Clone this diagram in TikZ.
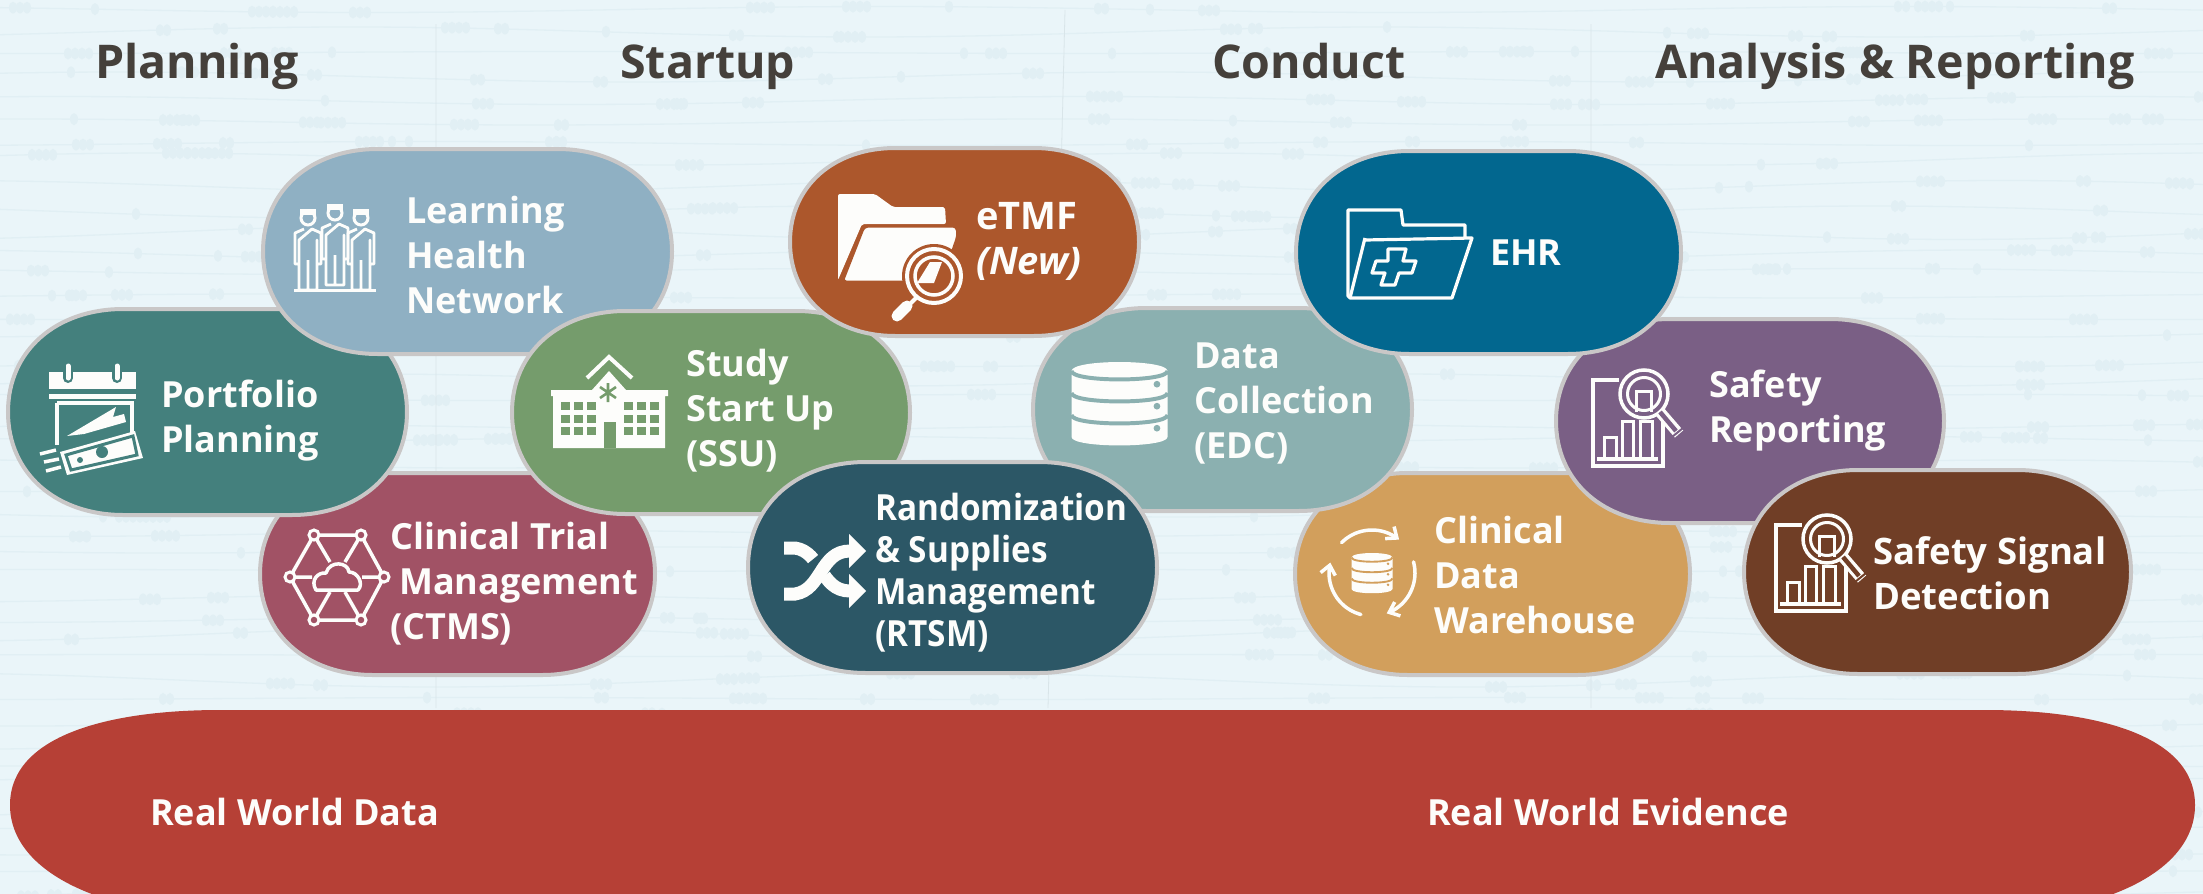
\documentclass[tikz,border=0pt]{standalone}
\usepackage{fontspec}
\setmainfont{Open Sans}
\newfontfamily\condf[FakeStretch=0.925]{Open Sans}
\usetikzlibrary{arrows.meta}
\definecolor{bgc}{HTML}{EAF5F9}
\definecolor{patc}{HTML}{E1EFF4}
\definecolor{rulec}{HTML}{D9E5E9}
\definecolor{edgec}{HTML}{C9C7C7}
\definecolor{headc}{HTML}{45403B}
\definecolor{iconw}{HTML}{FDFDFB}
\definecolor{cLearn}{HTML}{8FB0C3}
\definecolor{cPort}{HTML}{44807D}
\definecolor{cCtms}{HTML}{A15265}
\definecolor{cSsu}{HTML}{759C6C}
\definecolor{cEtmf}{HTML}{AC572C}
\definecolor{cRtsm}{HTML}{2C5766}
\definecolor{cEdc}{HTML}{8BB0B0}
\definecolor{cEhr}{HTML}{02678F}
\definecolor{cCdw}{HTML}{D29F5C}
\definecolor{cRep}{HTML}{7A5F85}
\definecolor{cSig}{HTML}{703E26}
\definecolor{cRed}{HTML}{B64036}
\tikzset{
  x=1pt,y=-1pt,
  pillshape/.style={draw=edgec,line width=4pt},
  lbl/.style={anchor=base west,align=left,text=iconw,font=\fontsize{36}{45}\selectfont\bfseries,inner sep=0pt},
  head/.style={anchor=base west,text=headc,font=\fontsize{46.5}{50}\selectfont\bfseries,inner sep=0pt},
  redlbl/.style={anchor=base west,text=iconw,font=\fontsize{36}{40}\selectfont\bfseries,inner sep=0pt},
  ln/.style={draw=iconw,line width=3.5pt,line join=miter},
  fl/.style={fill=iconw},
}
\newcommand{\pill}[6]{%
  \pgfmathsetmacro{\ym}{(#3+#5)/2}%
  \pgfmathsetmacro{\rr}{0.56*(#5-#3)}%
  \pgfmathsetmacro{\xa}{#2+\rr}%
  \pgfmathsetmacro{\xb}{#4-\rr}%
  \pgfmathsetmacro{\cxa}{#2+0.42*\rr}%
  \pgfmathsetmacro{\cxb}{#4-0.42*\rr}%
  \pgfmathsetmacro{\cya}{#3+0.20*(#5-#3)}%
  \pgfmathsetmacro{\cyb}{#5-0.20*(#5-#3)}%
  \path[pillshape,fill=#6] (#2,\ym) .. controls (#2,\cya) and (\cxa,#3) .. (\xa,#3)
    -- (\xb,#3) .. controls (\cxb,#3) and (#4,\cya) .. (#4,\ym)
    .. controls (#4,\cyb) and (\cxb,#5) .. (\xb,#5)
    -- (\xa,#5) .. controls (\cxa,#5) and (#2,\cyb) .. (#2,\ym) -- cycle;
  \coordinate (#1) at ({(#2+#4)/2},\ym);%
}
% database: centre x, top y, half width, ellipse height, band height, colour
\newcommand{\dbicon}[6]{%
  \pgfmathsetmacro{\ya}{#2+#4}%
  \pgfmathsetmacro{\yb}{\ya+#5}%
  \pgfmathsetmacro{\yc}{\yb+#5}%
  \pgfmathsetmacro{\yd}{\yc+#5}%
  \pgfmathsetmacro{\yae}{\yd+1.25*#4}%
  \pgfmathsetmacro{\xl}{#1-#3}%
  \pgfmathsetmacro{\xr}{#1+#3}%
  \pgfmathsetmacro{\ctla}{\ya+1.25*#4}%
  \pgfmathsetmacro{\ctlb}{\yb+1.25*#4}%
  \pgfmathsetmacro{\ctlc}{\yc+1.25*#4}%
  \pgfmathsetmacro{\ctop}{\ya-1.33*#4}%
  \path[fl] (\xl,\ya) .. controls (\xl,\ctop) and (\xr,\ctop) .. (\xr,\ya) -- (\xr,\yd)
     .. controls (\xr,\yae) and (\xl,\yae) .. (\xl,\yd) -- cycle;
  \draw[#6,line width=0.06*#5*3pt] (\xl,\ya) .. controls (\xl,\ctla) and (\xr,\ctla) .. (\xr,\ya);
  \draw[#6,line width=0.06*#5*3pt] (\xl,\yb) .. controls (\xl,\ctlb) and (\xr,\ctlb) .. (\xr,\yb);
  \draw[#6,line width=0.06*#5*3pt] (\xl,\yc) .. controls (\xl,\ctlc) and (\xr,\ctlc) .. (\xr,\yc);
  \fill[#6] ({\xr-0.22*#3},{\ya+0.6*#5}) circle[radius=0.07*#3];
  \fill[#6] ({\xr-0.22*#3},{\yb+0.6*#5}) circle[radius=0.07*#3];
  \fill[#6] ({\xr-0.22*#3},{\yc+0.6*#5}) circle[radius=0.07*#3];
}
\newcommand{\person}[3]{% cx, top, colour
  \begin{scope}[shift={(#1,#2)}]
    \draw[iconw,line width=3pt] (0,8) circle[radius=7];
    \path[fl] (-8,-1) -- (8,-1) -- (8,5) -- (-8,5) -- cycle;
    \draw[iconw,line width=2.8pt,line join=round] (-4,19) -- (-13,23) -- (-13,54) -- (-9,54) -- (-9,30)
      (-9,30) -- (-9,80) -- (9,80) -- (9,30) -- (9,54) -- (13,54) -- (13,23) -- (4,19) -- cycle
      (0,50) -- (0,80);
  \end{scope}
}
\newcommand{\safetyicon}[3]{% dx, dy, colour
  \begin{scope}[shift={(#1,#2)}]
    \draw[ln] (1619,380) -- (1593,380) -- (1593,466) -- (1663,466) -- (1663,420);
    \draw[iconw,line width=3pt] (1604,458) -- (1604,437) -- (1616,437) -- (1616,458)
      (1622,458) -- (1622,421) -- (1633,421) -- (1633,458)
      (1640,458) -- (1640,421) -- (1652,421) -- (1652,458);
    \draw[iconw,line width=3.5pt] (1597,459) -- (1658,459);
    \fill[#3] (1644,394) circle[radius=26];
    \draw[iconw,line width=3.5pt] (1644,394) circle[radius=24];
    \draw[iconw,line width=3pt] (1644,394) circle[radius=16.5];
    \draw[iconw,line width=3pt] (1636,412) -- (1636,391) -- (1651,391) -- (1651,412);
    \draw[iconw,line width=11pt] (1660,412) -- (1679,434);
    \draw[#3,line width=4.5pt] (1660,412) -- (1676,431);
    \draw[#3,line width=2pt] (1672,437) -- (1683,428);
  \end{scope}
}
\begin{document}
\begin{tikzpicture}
\useasboundingbox (0,0) rectangle (2203,894);
\clip (0,0) rectangle (2203,894);
\fill[bgc] (0,0) rectangle (2203,894);
% background threads
\pgfmathsetseed{1711}
\foreach \r in {1,...,42}{
  \pgfmathsetmacro{\yy}{\r*21.5-8+random(-5,5)}
  \pgfmathsetmacro{\ph}{random(0,360)}
  \pgfmathsetmacro{\am}{random(1,7)}
  \draw[patc,line width=1.3pt] plot[smooth,domain=0:2203,samples=36] (\x,{\yy+\am*sin(\x*0.35+\ph)});
  \foreach \k in {1,...,16}{
    \pgfmathsetmacro{\xx}{random(0,2203)}
    \pgfmathsetmacro{\yz}{\yy+\am*sin(\xx*0.35+\ph)}
    \pgfmathtruncatemacro{\nn}{random(1,4)}
    \foreach \m in {1,...,\nn}{
      \fill[patc] ({\xx+\m*7},\yz) ellipse[x radius=4,y radius=6];
    }
  }
}
\draw[rulec,line width=0.8pt] (436,24) -- (436,708) (1065,10) -- (1048,708) (1591,24) -- (1591,708);
% headers
\node[head] (hPlan) at (95,78) {Planning};
\node[head] (hStart) at (620,78) {Startup};
\node[head] (hCond) at (1212,78) {Conduct};
\node[head] (hAna) at (1655,78) {Analysis \& Reporting};
% red bar
\path[fill=cRed] (10,805) .. controls (10,735) and (110,710) .. (220,710) -- (1985,710)
  .. controls (2095,710) and (2195,735) .. (2195,805) .. controls (2195,875) and (2095,915) .. (1985,915)
  -- (220,915) .. controls (110,915) and (10,875) .. (10,805) -- cycle;
\coordinate (barc) at (1100,805);
\node[redlbl] (rwd) at (150,825) {Real World Data};
\node[redlbl] (rwe) at (1427,825) {Real World Evidence};
% --- pills in stacking order
\pill{pCtms}{260}{473}{655}{675}{cCtms}
\pill{pPort}{8}{309}{407}{515}{cPort}
\pill{pLearn}{263}{149}{672}{354}{cLearn}
\pill{pSsu}{512}{311}{910}{514}{cSsu}
\pill{pCdw}{1295}{473}{1690}{675}{cCdw}
\pill{pEdc}{1033}{308}{1412}{511}{cEdc}
\pill{pRtsm}{748}{462}{1157}{673}{cRtsm}
\pill{pEtmf}{790}{148}{1139}{336}{cEtmf}
\pill{pRep}{1556}{319}{1944}{523}{cRep}
\pill{pEhr}{1296}{151}{1681}{354}{cEhr}
\pill{pSig}{1744}{470}{2131}{674}{cSig}
% --- labels
\node[lbl] (tLearn) at (406,313) {Learning\\Health\\Network};
\node[lbl] (tPort) at (161,452) {Portfolio\\Planning};
\node[lbl] (tCtms) at (390,639) {Clinical Trial\\\hspace*{9pt}Management\\(CTMS)};
\node[lbl] (tSsu) at (686,466) {Study\\Start Up\\(SSU)};
\node[lbl,font=\fontsize{38}{45}\selectfont\bfseries] (tEtmf) at (976,274) {eTMF\\\textit{(New)}};
\node[lbl,font=\fontsize{36}{41.7}\condf\bfseries] (tRtsm) at (875,646) {Randomization\\\&~Supplies\\Management\\(RTSM)};
\node[lbl] (tEdc) at (1194,458) {Data\\Collection\\(EDC)};
\node[lbl] (tEhr) at (1490,265) {EHR};
\node[lbl] (tCdw) at (1434,633) {Clinical\\Data\\Warehouse};
\node[lbl] (tRep) at (1709,442) {Safety\\Reporting};
\node[lbl,font=\fontsize{36.5}{45}\selectfont\bfseries] (tSig) at (1873,609) {Safety Signal\\Detection};
% --- icon: portfolio
\path[fl] (49,372) rectangle (136,389);
\foreach \q in {68,117}{
  \draw[cPort,line width=10pt,line cap=round] (\q,368) -- (\q,378);
  \draw[iconw,line width=5pt,line cap=round] (\q,366) -- (\q,378);
}
\path[fl] (49,394) rectangle (136,399);
\draw[iconw,line width=4pt] (57,403) -- (57,445) (57,403) -- (132,403) -- (132,440);
\path[fl] (67,436) -- (116,407) -- (113,417) -- (124,414) -- (126,422) -- (84,434) -- cycle;
\path[fl] (60,452) -- (135,431) -- (143,458) -- (67,475) -- cycle;
\draw[cPort,line width=3pt] (66,455) -- (133,436) -- (137,455) -- (71,470) -- cycle;
\fill[cPort] (80,460) circle[radius=3];
\fill[cPort] (102,452) circle[radius=6];
\draw[iconw,line width=3.5pt] (40,454) -- (56,450) (44,462) -- (59,459) (46,471) -- (61,467);
% --- icon: learning
\person{308}{210}{cLearn}
\person{335}{205}{cLearn}
\person{361}{210}{cLearn}
\draw[iconw,line width=3pt] (294,290) -- (376,290);
% --- icon: ctms
\draw[iconw,line width=3.5pt,line cap=round] (314,535) -- (361,535) (361,535) -- (384,577) -- (361,620) -- (314,620) -- (290,577) -- (314,535);
\draw[iconw,line width=3.5pt] (314,535) -- (330,562) (361,535) -- (345,562) (314,620) -- (330,592) (361,620) -- (345,592) (290,577) -- (312,577) (384,577) -- (362,577);
\foreach \a/\b in {314/535,361/535,384/577,361/620,314/620,290/577}{
  \path[fill=cCtms,draw=iconw,line width=3pt] (\a,\b) circle[radius=5];
}
\draw[iconw,line width=3.5pt,line join=round,fill=cCtms] (316,590) .. controls (310,580) and (318,572) .. (326,573) .. controls (330,560) and (348,562) .. (349,572) .. controls (358,572) and (364,584) .. (358,590) -- cycle;
% --- icon: hospital
\draw[iconw,line width=4pt,line join=miter] (587,378) -- (609,357) -- (632,378);
\path[fl] (551,390) -- (592,390) -- (609,371) -- (626,390) -- (668,390) -- (668,396) -- (665,396) -- (665,448) -- (553,448) -- (553,396) -- (551,396) -- cycle;
\foreach \c in {561,574,587,624,637,650}{
  \foreach \e in {402,414.5,427}{
    \fill[cSsu] (\c,\e) rectangle +(9,8);
  }
}
\fill[cSsu] (604,422) rectangle (616,448);
\draw[cSsu,line width=2.6pt] (608,383) -- (608,402) (600,387) -- (616,398) (600,398) -- (616,387);
% --- icon: etmf
\path[fl,rounded corners=2pt] (838,194) -- (875,194) -- (893,207) -- (945,207) -- (946,224) -- (862,224) -- (838,280) -- cycle;
\path[fl,draw=cEtmf,line width=3pt,rounded corners=4pt] (864,226) -- (957,226) -- (958,236) -- (942,282) -- (842,282) -- cycle;
\fill[cEtmf] (934,276) circle[radius=32];
\draw[iconw,line width=4pt] (934,276) circle[radius=27];
\draw[iconw,line width=3.5pt] (934,276) circle[radius=19];
\path[fl] (917,283) -- (930,262) -- (942,262) -- (934,283) -- cycle;
\draw[iconw,line width=4pt] (916,298) -- (908,306);
\draw[iconw,line width=11pt,line cap=round] (907,306) -- (897,316);
% --- icon: shuffle
\draw[iconw,line width=13pt] (784,548) -- (795,548) .. controls (822,552) and (820,591) .. (850,591);
\draw[cRtsm,line width=20pt] (806,578) -- (828,560);
\draw[iconw,line width=13pt] (784,594) -- (795,594) .. controls (822,590) and (820,551) .. (850,551);
\path[fl] (849,534) -- (866,551) -- (849,568) -- cycle;
\path[fl] (849,574) -- (866,591) -- (849,608) -- cycle;
% --- icon: edc
\dbicon{1119.5}{362}{48}{9}{22}{cEdc}
% --- icon: ehr
\draw[iconw,line width=3.2pt,line join=round] (1365,240) -- (1472,238) -- (1452,298) -- (1350,298) -- (1348,296) -- (1348,210) -- (1401,210) -- (1403,225) -- (1465,225) -- (1465,238);
\draw[iconw,line width=3.2pt,line join=round] (1365,238) -- (1350,298);
\draw[iconw,line width=3.2pt,line join=round] (1388,249) -- (1406,249) -- (1403,261) -- (1416,261) -- (1412,273) -- (1399,273) -- (1395,285) -- (1381,285) -- (1385,273) -- (1372,273) -- (1376,261) -- (1388,261) -- cycle;
% --- icon: cdw
\dbicon{1372}{553}{20.5}{4.5}{10.5}{cCdw}
\foreach \sa/\sb in {225/309,-15/70,105/194}{
  \draw[iconw,line width=3.5pt,line cap=round,-{Straight Barb[length=9pt,width=15pt,line width=3.5pt]}] plot[smooth,domain=\sa:\sb,samples=12] ({1372+43*cos(\x)},{573+43*sin(\x)});
}
% --- icons: safety
\safetyicon{0}{0}{cRep}
\safetyicon{183}{145}{cSig}
\end{tikzpicture}
\end{document}
